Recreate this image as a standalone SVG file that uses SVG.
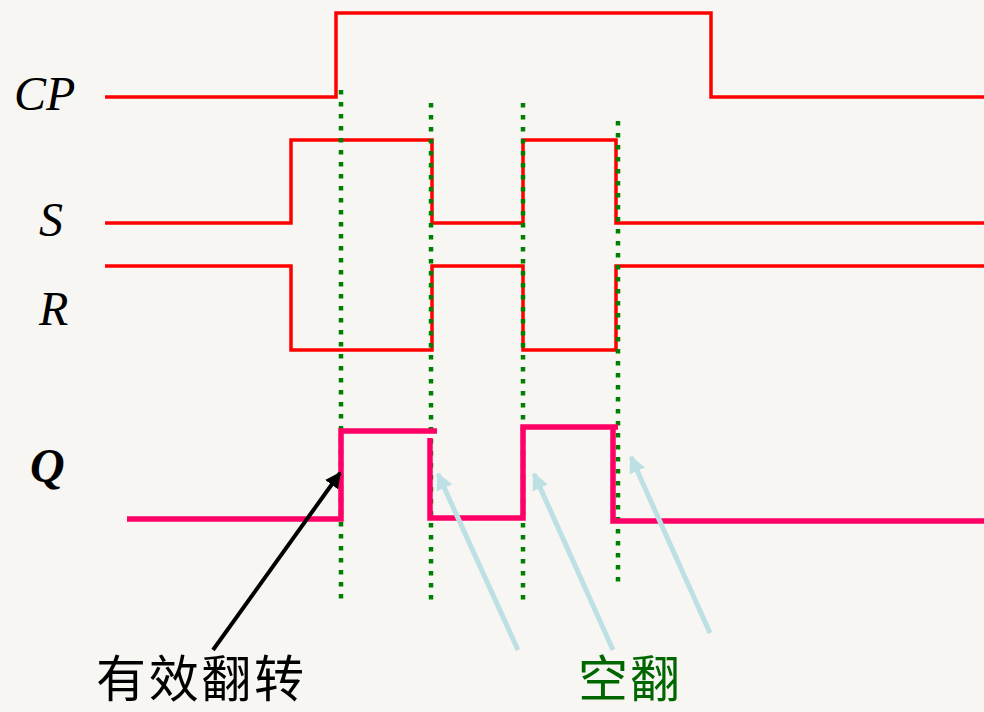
<svg xmlns="http://www.w3.org/2000/svg" width="984" height="712" viewBox="0 0 984 712">
<defs>
<style>
.sig{fill:none;stroke:#FF0000;stroke-width:3.5;stroke-linejoin:miter}
.q{fill:none;stroke:#FF0066;stroke-width:5.5;stroke-linecap:butt}
.dot{fill:none;stroke:#008000;stroke-width:4.5;stroke-dasharray:4.5 7.5}
.lbl{font-family:"Liberation Serif","Times New Roman",serif;font-style:italic;font-size:48px;fill:#000}
.cn{font-family:"Noto Sans CJK SC","Noto Sans CJK TC",sans-serif;font-size:50px}
</style>
<marker id="ab" viewBox="0 0 10 10" refX="9" refY="5" markerWidth="4" markerHeight="4" orient="auto" markerUnits="strokeWidth"><path d="M0,0 L10,5 L0,10 Z" fill="#000"/></marker>
<marker id="aq" viewBox="0 0 10 10" refX="9" refY="5" markerWidth="3.4" markerHeight="3.4" orient="auto" markerUnits="strokeWidth"><path d="M0,0 L10,5 L0,10 Z" fill="#BDE0E4"/></marker>
</defs>
<rect width="984" height="712" fill="#F7F6F2"/>
<g id="labels">
<text class="lbl" x="14" y="110">CP</text>
<text class="lbl" x="39" y="236">S</text>
<text class="lbl" x="39" y="325">R</text>
<text class="lbl" x="30" y="482" font-weight="bold" font-size="50">Q</text>
</g>
<g id="cp"><path class="sig" d="M105,97 H336 V13 H711 V97 H984"/></g>
<g id="s"><path class="sig" d="M105,223 H291 V140 H432 V223 H523 V140 H616 V223 H984"/></g>
<g id="r"><path class="sig" d="M105,266 H291 V350 H432 V266 H523 V350 H616 V266 H984"/></g>
<g id="guides">
<line class="dot" x1="341" y1="90" x2="341" y2="600"/>
<line class="dot" x1="431" y1="103" x2="431" y2="602"/>
<line class="dot" x1="523" y1="103" x2="523" y2="602"/>
<line class="dot" x1="618" y1="121" x2="618" y2="585"/>
</g>
<g id="q">
<path class="q" d="M127,519 H341 V431 H437"/>
<path class="q" d="M430,438 V518 H523 V427 H618"/>
<path class="q" d="M613,427 V521 H984"/>
</g>
<g id="connectors">
<line x1="213" y1="650" x2="340" y2="473" stroke="#000" stroke-width="4" marker-end="url(#ab)"/>
<line x1="518" y1="650" x2="438" y2="474" stroke="#BDE0E4" stroke-width="5" marker-end="url(#aq)"/>
<line x1="613" y1="650" x2="534" y2="474" stroke="#BDE0E4" stroke-width="5" marker-end="url(#aq)"/>
<line x1="710" y1="633" x2="631" y2="457" stroke="#BDE0E4" stroke-width="5" marker-end="url(#aq)"/>
</g>
<g id="notes">
<text class="cn" x="96" y="697" fill="#000" textLength="208">有效翻转</text>
<text class="cn" x="578" y="697" fill="#006600" textLength="102">空翻</text>
</g>
</svg>
